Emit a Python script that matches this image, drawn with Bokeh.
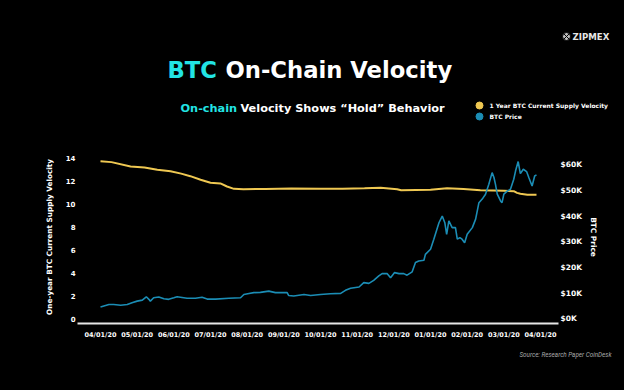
from bokeh.plotting import figure
from bokeh.models import Range1d, LinearAxis, FixedTicker
from bokeh.layouts import column
from bokeh.core.properties import value
from bokeh.embed import file_html
from bokeh.resources import INLINE

# ---- data (x = months since 04/01/2020) ----
tick_positions = list(range(13))
tick_labels = ["04/01/20", "05/01/20", "06/01/20", "07/01/20", "08/01/20", "09/01/20",
               "10/01/20", "11/01/20", "12/01/20", "01/01/20", "02/01/20", "03/01/20", "04/01/20"]

vel_month = [0.0, 0.3, 0.82, 1.2, 1.55, 1.91, 2.2, 2.45, 2.73, 3.0, 3.27, 3.45, 3.64, 3.9,
             4.5, 5.2, 6.0, 6.6, 7.2, 7.64, 8.09, 8.2, 8.6, 9.0, 9.45, 9.9, 10.36, 10.7,
             11.0, 11.27, 11.36, 11.45, 11.64, 11.89]
vel_value = [13.70, 13.62, 13.24, 13.15, 12.95, 12.83, 12.62, 12.40, 12.09, 11.83, 11.77, 11.50,
             11.30, 11.27, 11.28, 11.32, 11.30, 11.30, 11.34, 11.39, 11.27, 11.18, 11.20, 11.22,
             11.36, 11.28, 11.18, 11.16, 11.13, 11.10, 10.95, 10.87, 10.79, 10.78]

price_month = [0.0, 0.23, 0.36, 0.55, 0.73, 0.86, 1.0, 1.14, 1.25, 1.32, 1.36, 1.45, 1.59,
               1.73, 1.86, 2.0, 2.09, 2.36, 2.59, 2.77, 2.91, 3.14, 3.5, 3.82, 3.91, 4.05,
               4.18, 4.36, 4.59, 4.77, 5.09, 5.13, 5.27, 5.55, 5.73, 6.0, 6.27, 6.55, 6.68,
               6.82, 7.05, 7.18, 7.32, 7.45, 7.59, 7.68, 7.82, 7.91, 8.02, 8.14, 8.27, 8.36,
               8.5, 8.59, 8.68, 8.82, 8.86, 9.0, 9.09, 9.23, 9.32, 9.39, 9.44, 9.5, 9.59,
               9.68, 9.73, 9.80, 9.86, 9.93, 10.0, 10.14, 10.23, 10.32, 10.41, 10.5, 10.59,
               10.68, 10.73, 10.77, 10.82, 10.91, 10.95, 11.0, 11.1, 11.18, 11.27, 11.32,
               11.39, 11.45, 11.53, 11.62, 11.68, 11.77, 11.84, 11.89]
price_k = [4.6, 5.6, 5.6, 5.3, 5.6, 6.3, 6.9, 7.3, 8.6, 7.6, 6.9, 8.2, 8.5,
           7.8, 7.6, 8.2, 8.6, 8.0, 8.0, 8.4, 7.7, 7.7, 8.0, 8.2, 9.5, 9.9,
           10.2, 10.3, 10.8, 10.2, 10.2, 9.1, 8.9, 9.5, 9.1, 9.5, 9.8, 9.9, 11.1,
           11.9, 12.4, 14.1, 13.8, 15.0, 16.7, 17.6, 17.6, 16.0, 18.0, 17.6, 17.6, 17.0,
           18.3, 21.9, 22.5, 22.8, 25.1, 27.1, 31.0, 37.4, 40.0, 37.4, 32.9, 38.1, 35.5,
           35.5, 31.0, 31.6, 31.0, 29.6, 32.9, 35.5, 38.8, 45.2, 46.6, 48.5, 52.4,
           56.9, 55.0, 52.4, 48.5, 45.9, 45.2, 48.5, 49.8, 50.4, 54.3, 57.6,
           61.2, 56.5, 58.2, 57.3, 55.0, 51.7, 55.6, 56.0]
price_usd = [v * 1000 for v in price_k]

price_ticks = [0, 10000, 20000, 30000, 40000, 50000, 60000]
price_tick_labels = ["$0K", "$10K", "$20K", "$30K", "$40K", "$50K", "$60K"]
vel_ticks = [0, 2, 4, 6, 8, 10, 12, 14]

title_parts = ["BTC", "On-Chain Velocity"]
subtitle_parts = ["On-chain", "Velocity Shows \u201cHold\u201d Behavior"]
legend_labels = ["1 Year BTC Current Supply Velocity", "BTC Price"]
brand = "ZIPMEX"
source = "Source: Research Paper CoinDesk"

W = 624
HEAD_H, MAIN_H, FOOT_H = 140, 205, 45
YELLOW = "#efc852"
BLUE = "#1b8db5"
CYAN = "#22e4e4"
FONT = value("DejaVu Sans")


def no_align(f):
    try:
        f.frame_align = False
    except Exception:
        pass
    return f


def blank(h, y0):
    f = figure(width=W, height=h, output_backend="svg", toolbar_location=None,
               x_range=Range1d(0, W), y_range=Range1d(y0 + h, y0),
               x_axis_location=None, y_axis_location=None,
               min_border=0, background_fill_color="black", border_fill_color="black",
               outline_line_color=None)
    f.grid.visible = False
    return no_align(f)


# ---------- header ----------
head = blank(HEAD_H, 0)
head.text(x=[167], y=[69], text=[title_parts[0]], text_color=CYAN, text_font=FONT,
          text_font_style="bold", text_font_size="22.7px", text_baseline="middle")
head.text(x=[225], y=[69], text=[title_parts[1]], text_color="white", text_font=FONT,
          text_font_style="bold", text_font_size="22.7px", text_baseline="middle")
head.text(x=[180], y=[108], text=[subtitle_parts[0]], text_color=CYAN, text_font=FONT,
          text_font_style="bold", text_font_size="11.3px", text_baseline="middle")
head.text(x=[240], y=[108], text=[subtitle_parts[1]], text_color="white", text_font=FONT,
          text_font_style="bold", text_font_size="11.3px", text_baseline="middle")
head.scatter(x=[479, 479], y=[105, 116], size=7, color=[YELLOW, BLUE])
head.text(x=[489, 489], y=[105, 116], text=legend_labels, text_color="white", text_font=FONT,
          text_font_style="bold", text_font_size="6px", text_baseline="middle")
head.scatter(x=[566], y=[36], marker="circle_x", size=8, fill_color="#bbbbbb",
             line_color="#000000", line_width=1)
head.text(x=[572], y=[36], text=[brand], text_color="#e6e6e6", text_font=FONT,
          text_font_style="bold", text_font_size="8.6px", text_baseline="middle")

# ---------- main chart ----------
FL, FR = 77, 558
p = figure(width=W, height=MAIN_H, output_backend="svg", toolbar_location=None,
           x_range=Range1d(-0.627, 12.49), y_range=Range1d(-0.4, 14.63),
           min_border_left=FL, min_border_right=W - FR, min_border_top=10,
           min_border_bottom=22,
           background_fill_color="black", border_fill_color="black", outline_line_color=None)
no_align(p)
p.extra_y_ranges = {"price": Range1d(-1800, 65500)}
p.xgrid.visible = False
p.ygrid.visible = False

p.line(vel_month, vel_value, line_color=YELLOW, line_width=2)
p.line(price_month, price_usd, line_color=BLUE, line_width=1.6, y_range_name="price")

xa = p.xaxis[0]
xa.ticker = FixedTicker(ticks=tick_positions)
xa.major_label_overrides = {i: t for i, t in zip(tick_positions, tick_labels)}
xa.axis_line_color = "#e6e6e6"
xa.axis_line_width = 2
xa.major_tick_line_color = None
xa.minor_tick_line_color = None
xa.major_tick_out = 0
xa.major_tick_in = 0
xa.major_label_text_color = "white"
xa.major_label_text_font = "DejaVu Sans"
xa.major_label_text_font_style = "bold"
xa.major_label_text_font_size = "6.5px"
xa.major_label_standoff = 7

ya = p.yaxis[0]
ya.ticker = FixedTicker(ticks=vel_ticks)
ya.axis_line_color = None
ya.major_tick_line_color = None
ya.minor_tick_line_color = None
ya.major_tick_out = 0
ya.major_tick_in = 0
ya.major_label_text_color = "white"
ya.major_label_text_font = "DejaVu Sans"
ya.major_label_text_font_style = "bold"
ya.major_label_text_font_size = "7px"
ya.major_label_standoff = 2
ya.axis_label = "One-year BTC Current Supply Velocity"
ya.axis_label_text_color = "white"
ya.axis_label_text_font = "DejaVu Sans"
ya.axis_label_text_font_style = "bold"
ya.axis_label_text_font_size = "7.3px"
ya.axis_label_standoff = 9

ra = LinearAxis(y_range_name="price", ticker=FixedTicker(ticks=price_ticks))
ra.major_label_overrides = {t: s for t, s in zip(price_ticks, price_tick_labels)}
ra.axis_line_color = None
ra.major_tick_line_color = None
ra.minor_tick_line_color = None
ra.major_tick_out = 0
ra.major_tick_in = 0
ra.major_label_text_color = "white"
ra.major_label_text_font = "DejaVu Sans"
ra.major_label_text_font_style = "bold"
ra.major_label_text_font_size = "7.5px"
ra.major_label_standoff = 2
ra.axis_label = "BTC Price"
ra.axis_label_text_color = "white"
ra.axis_label_text_font = "DejaVu Sans"
ra.axis_label_text_font_style = "bold"
ra.axis_label_text_font_size = "7.4px"
ra.axis_label_standoff = 4
p.add_layout(ra, "right")

# ---------- footer ----------
foot = blank(FOOT_H, HEAD_H + MAIN_H)
foot.text(x=[611], y=[354], text=[source], text_color="#a8a8a8", text_font=value("Roboto"),
          text_font_style="italic", text_font_size="6.3px", text_baseline="middle",
          text_align="right")

layout = column(head, p, foot, spacing=0, styles={"background-color": "black"})
open("out.html", "w").write(file_html(layout, INLINE))
